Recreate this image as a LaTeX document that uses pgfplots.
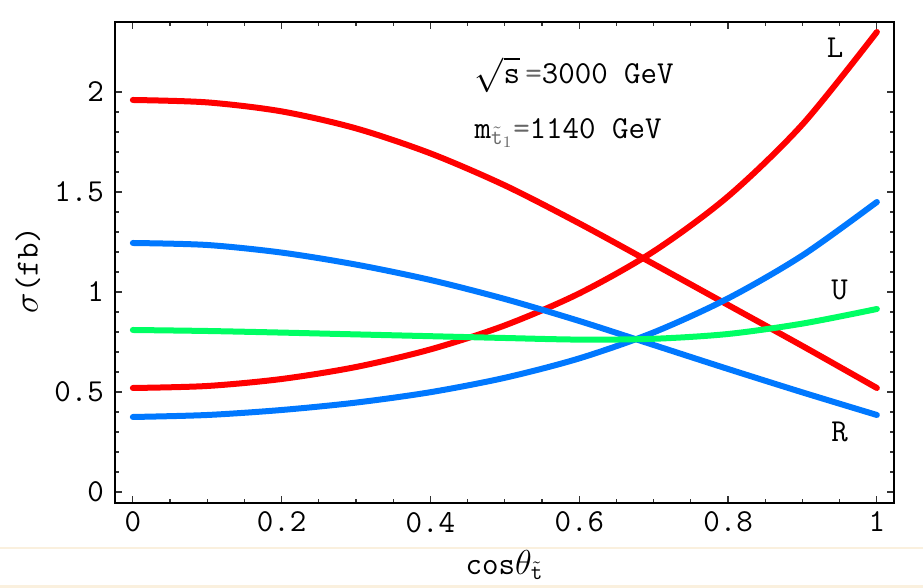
\documentclass[border=0pt]{standalone}
\usepackage{pgfplots}
\pgfplotsset{compat=1.18}
\usepackage{fontspec}
\renewcommand{\familydefault}{\ttdefault}
\definecolor{cred}{RGB}{255,0,0}
\definecolor{cblue}{RGB}{0,120,255}
\definecolor{cgreen}{RGB}{0,255,100}
\definecolor{strip}{RGB}{250,240,222}
\begin{document}
\begin{tikzpicture}
\useasboundingbox (-57.5pt,-42.5pt) rectangle (404pt,251.5pt);
\draw[strip, line width=0.6pt] (-57.5pt,-22.5pt) -- (404pt,-22.5pt);
\fill[strip] (-57.5pt,-42.5pt) rectangle (404pt,-41pt);
\begin{axis}[at={(0,0)}, anchor=south west, scale only axis, width=389.5pt, height=240.5pt,
  xmin=-0.024, xmax=1.023, ymin=-0.055, ymax=2.35,
  xtick={0,0.2,0.4,0.6,0.8,1}, ytick={0,0.5,1,1.5,2},
  minor x tick num=3, minor y tick num=4,
  tick align=inside, major tick length=3.5pt, minor tick length=2pt,
  tick style={black!80, line width=0.6pt}, axis line style={black, line width=0.8pt},
  ticklabel style={font=\fontsize{16}{18}\selectfont},
  /pgf/number format/assume math mode=true,
  xticklabel style={yshift=-1pt}, yticklabel style={xshift=-2pt},
  clip=false]
% L
\addplot[cred, line width=3pt, line cap=round, smooth] coordinates {(0,0.52) (0.1,0.53) (0.2,0.565) (0.3,0.625) (0.4,0.713) (0.5,0.833) (0.6,0.993) (0.7,1.203) (0.8,1.478) (0.9,1.838) (1,2.30)};
\addplot[cred, line width=3pt, line cap=round, smooth] coordinates {(0,1.96) (0.1,1.948) (0.2,1.903) (0.3,1.818) (0.4,1.693) (0.5,1.533) (0.6,1.343) (0.7,1.14) (0.8,0.935) (0.9,0.73) (1,0.52)};
% R
\addplot[cblue, line width=3pt, line cap=round, smooth] coordinates {(0,1.245) (0.1,1.235) (0.2,1.197) (0.3,1.137) (0.4,1.06) (0.5,0.965) (0.6,0.855) (0.7,0.735) (0.8,0.615) (0.9,0.498) (1,0.385)};
\addplot[cblue, line width=3pt, line cap=round, smooth] coordinates {(0,0.375) (0.1,0.385) (0.2,0.41) (0.3,0.447) (0.4,0.499) (0.5,0.571) (0.6,0.668) (0.7,0.798) (0.8,0.968) (0.9,1.183) (1,1.45)};
% U
\addplot[cgreen, line width=3pt, line cap=round, smooth] coordinates {(0,0.81) (0.1,0.805) (0.2,0.797) (0.3,0.788) (0.4,0.779) (0.5,0.77) (0.6,0.762) (0.7,0.766) (0.8,0.79) (0.9,0.842) (1,0.915)};
\node[font=\fontsize{16}{18}\selectfont] at (axis cs:0.944,2.22) {L};
\node[font=\fontsize{16}{18}\selectfont] at (axis cs:0.95,1.01) {U};
\node[font=\fontsize{16}{18}\selectfont] at (axis cs:0.95,0.30) {R};
\node[anchor=west, font=\fontsize{16}{18}\selectfont] at (axis cs:0.45,2.085) {$\sqrt{\mathtt{s}}$\,{\color{black!60}=}3000 GeV};
\node[anchor=west, font=\fontsize{16}{18}\selectfont] at (axis cs:0.45,1.795) {m$_{\color{black!60}\tilde{\mathtt{t}}_1}${\color{black!60}=}1140 GeV};
\node[font=\fontsize{16}{18}\selectfont] at (axis description cs:0.50,-0.129) {cos$\theta_{\tilde{\mathtt{t}}}$};
\node[rotate=90, font=\fontsize{16}{18}\selectfont] at (axis description cs:-0.112,0.484) {$\sigma$(fb)};
\end{axis}
\end{tikzpicture}
\end{document}
